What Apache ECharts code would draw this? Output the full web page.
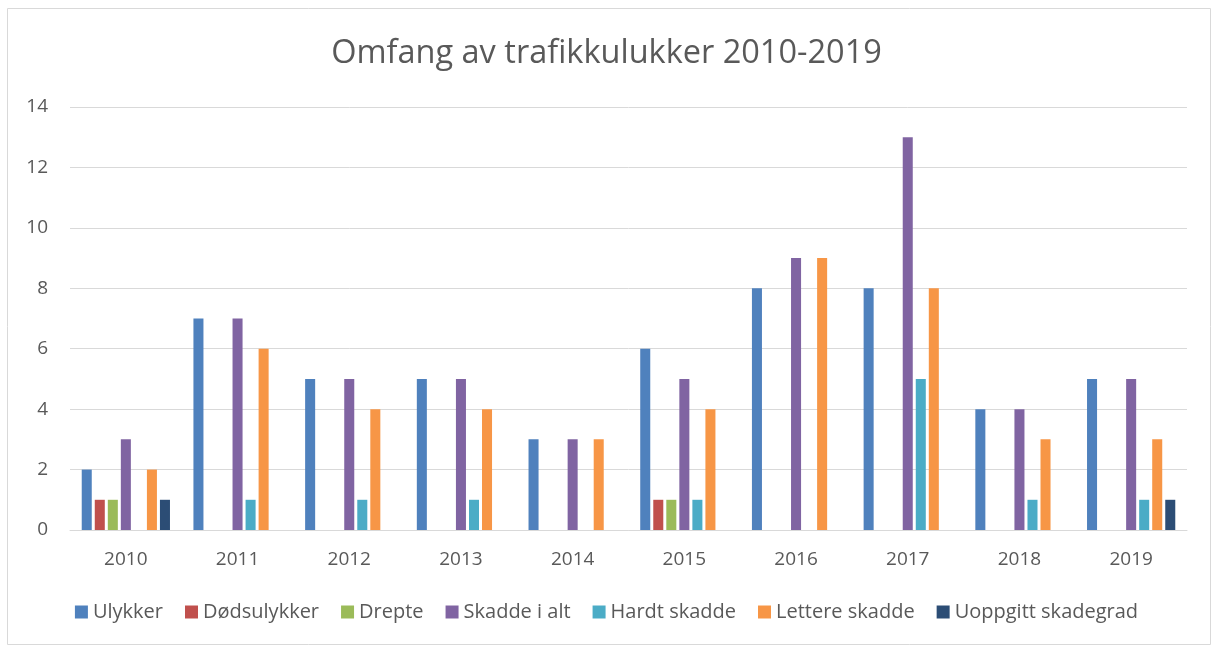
<!DOCTYPE html>
<html><head><meta charset="utf-8">
<script src="https://cdn.jsdelivr.net/npm/echarts@6/dist/echarts.min.js"></script>
<style>html,body{margin:0;padding:0;background:#fff}#c{width:1213px;height:648px}</style>
</head><body><div id="c"></div>
<script>
const categories = ['2010','2011','2012','2013','2014','2015','2016','2017','2018','2019'];
const seriesNames = ['Ulykker','Dødsulykker','Drepte','Skadde i alt','Hardt skadde','Lettere skadde','Uoppgitt skadegrad'];
const ulykker      = [2,7,5,5,3,6,8,8,4,5];
const dodsulykker  = [1,0,0,0,0,1,0,0,0,0];
const drepte       = [1,0,0,0,0,1,0,0,0,0];
const skaddeIAlt   = [3,7,5,5,3,5,9,13,4,5];
const hardtSkadde  = [0,1,1,1,0,1,0,5,1,1];
const lettereSkadde= [2,6,4,4,3,4,9,8,3,3];
const uoppgitt     = [1,0,0,0,0,0,0,0,0,1];
const yTicks = [0,2,4,6,8,10,12,14];
const colors = ['#4F81BD','#C0504D','#9BBB59','#8064A2','#4BACC6','#F79646','#2C4D75'];
const values = [ulykker,dodsulykker,drepte,skaddeIAlt,hardtSkadde,lettereSkadde,uoppgitt];
const font = 'Open Sans';
const chart = echarts.init(document.getElementById('c'));
chart.setOption({
  animation:false,
  color: colors,
  textStyle:{fontFamily:font},
  title:{text:'Omfang av trafikkulukker 2010-2019',left:'center',top:32,
    textStyle:{fontFamily:font,fontSize:32.5,fontWeight:'normal',color:'#595959'}},
  graphic:[{type:'rect',shape:{x:7.5,y:8.5,width:1203,height:636},style:{fill:'none',stroke:'#D9D9D9',lineWidth:1}}],
  grid:{left:70,right:26,top:107,bottom:118},
  legend:{bottom:21,left:'center',itemWidth:13,itemHeight:13,itemGap:22,icon:'rect',
    textStyle:{fontFamily:font,fontSize:20,color:'#595959'},data:seriesNames},
  xAxis:{type:'category',data:categories,
    axisLine:{lineStyle:{color:'#D9D9D9',width:1}},axisTick:{show:false},
    axisLabel:{fontFamily:font,fontSize:19,color:'#595959',margin:20}},
  yAxis:{type:'value',min:yTicks[0],max:yTicks[yTicks.length-1],interval:2,
    axisLine:{show:false},axisTick:{show:false},
    splitLine:{lineStyle:{color:'#D9D9D9',width:1}},
    axisLabel:{fontFamily:font,fontSize:19,color:'#595959',margin:22}},
  series: seriesNames.map((n,i)=>({name:n,type:'bar',data:values[i].map(v=>v===0?null:v),
    barGap:'30%',barCategoryGap:'21%',itemStyle:{color:colors[i]}}))
});
</script></body></html>
